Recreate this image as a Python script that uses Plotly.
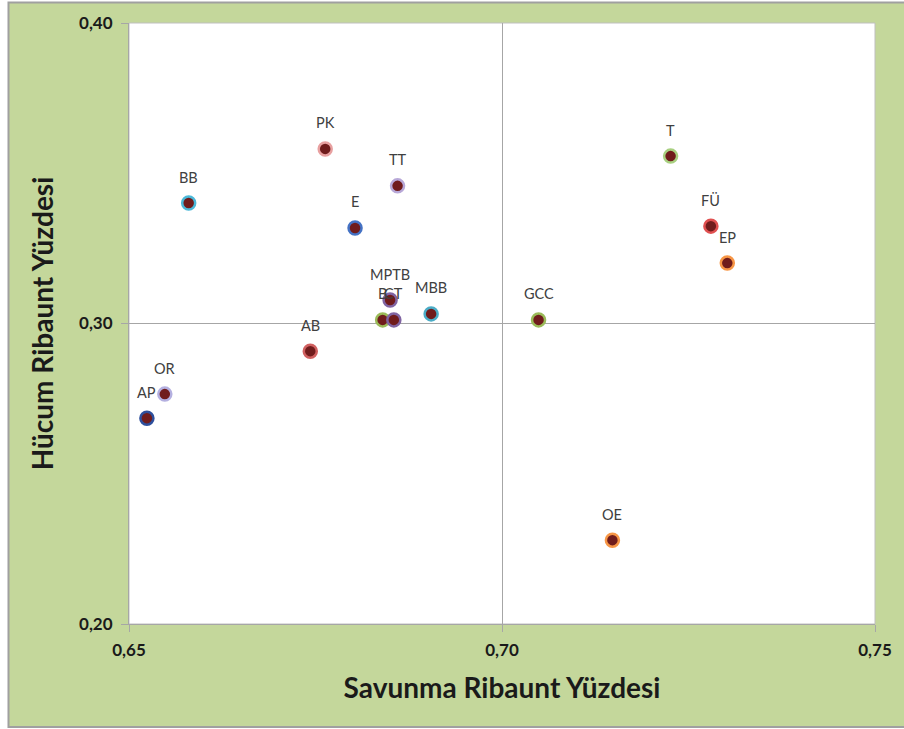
import plotly.graph_objects as go

labels = ["AP", "OR", "BB", "AB", "PK", "TT", "E", "MPTB", "B", "CT", "MBB", "GCC", "T", "FÜ", "EP", "OE"]
savunma = [0.6524, 0.6548, 0.6580, 0.6743, 0.6763, 0.6860, 0.6803, 0.6850, 0.6840, 0.6855, 0.6905, 0.7049, 0.7226, 0.7280, 0.7302, 0.7148]
hucum = [0.2685, 0.2765, 0.3401, 0.2908, 0.3581, 0.3458, 0.3318, 0.3078, 0.3012, 0.3012, 0.3032, 0.3012, 0.3557, 0.3324, 0.3201, 0.2279]
ring_colors = ["#2E4F9C", "#B4B0E0", "#4BB8D8", "#D06060", "#E8A0A0", "#B8A8D8", "#4472C4", "#8064A2",
               "#9BBB59", "#8064A2", "#4BACC6", "#9BBB59", "#A8D080", "#E05050", "#F79646", "#F79646"]

x_ticks = [0.65, 0.70, 0.75]
y_ticks = [0.20, 0.30, 0.40]

fig = go.Figure()
fig.add_trace(go.Scatter(
    x=savunma, y=hucum, mode="markers",
    marker=dict(size=13, color="#701C1C", line=dict(color=ring_colors, width=2.5)),
    hoverinfo="text", text=labels, showlegend=False,
))

for lb, xv, yv in zip(labels, savunma, hucum):
    fig.add_annotation(x=xv, y=yv, text=lb, showarrow=False, yshift=26,
                       font=dict(family="Lato", size=14.5, color="#404040"))

# green chart frame and white plot area
fig.add_shape(type="rect", xref="paper", yref="paper",
              x0=(8 - 129) / 749, x1=(915 - 129) / 749,
              y0=(624 - 727) / 601, y1=(624 - 2.5) / 601,
              fillcolor="#C4D79B", line=dict(color="#A0A0A0", width=2), layer="below")
fig.add_shape(type="rect", xref="paper", yref="paper", x0=0, x1=1, y0=0, y1=1,
              fillcolor="white", line=dict(color="#BFBFBF", width=1), layer="below")

axis_font = dict(family="Lato", size=17, color="#1A1A1A", weight="bold")
title_font = dict(family="Lato", size=28, color="#1A1A1A", weight="bold")

fig.update_xaxes(range=[0.65, 0.75], tickvals=x_ticks, tickformat=".2f",
                 showgrid=True, gridcolor="#A6A6A6", gridwidth=1,
                 showline=True, linecolor="#A6A6A6", linewidth=1,
                 ticks="outside", ticklen=7, tickcolor="#A6A6A6",
                 tickfont=axis_font, ticklabelstandoff=4, zeroline=False,
                 title=dict(text="Savunma Ribaunt Yüzdesi", font=title_font, standoff=18))
fig.update_yaxes(range=[0.20, 0.40], tickvals=y_ticks, tickformat=".2f",
                 showgrid=True, gridcolor="#A6A6A6", gridwidth=1,
                 showline=True, linecolor="#A6A6A6", linewidth=1,
                 ticks="outside", ticklen=7, tickcolor="#A6A6A6",
                 tickfont=axis_font, ticklabelstandoff=5, zeroline=False,
                 title=dict(text="Hücum Ribaunt Yüzdesi", font=title_font, standoff=17))

fig.update_layout(
    width=904, height=729,
    margin=dict(l=129, r=23, t=23, b=105),
    paper_bgcolor="white", plot_bgcolor="rgba(0,0,0,0)",
    separators=",.",
)

fig.write_html("out.html", config={"displayModeBar": False},
               post_script="document.body.style.margin='0px';document.body.style.overflow='hidden';")
